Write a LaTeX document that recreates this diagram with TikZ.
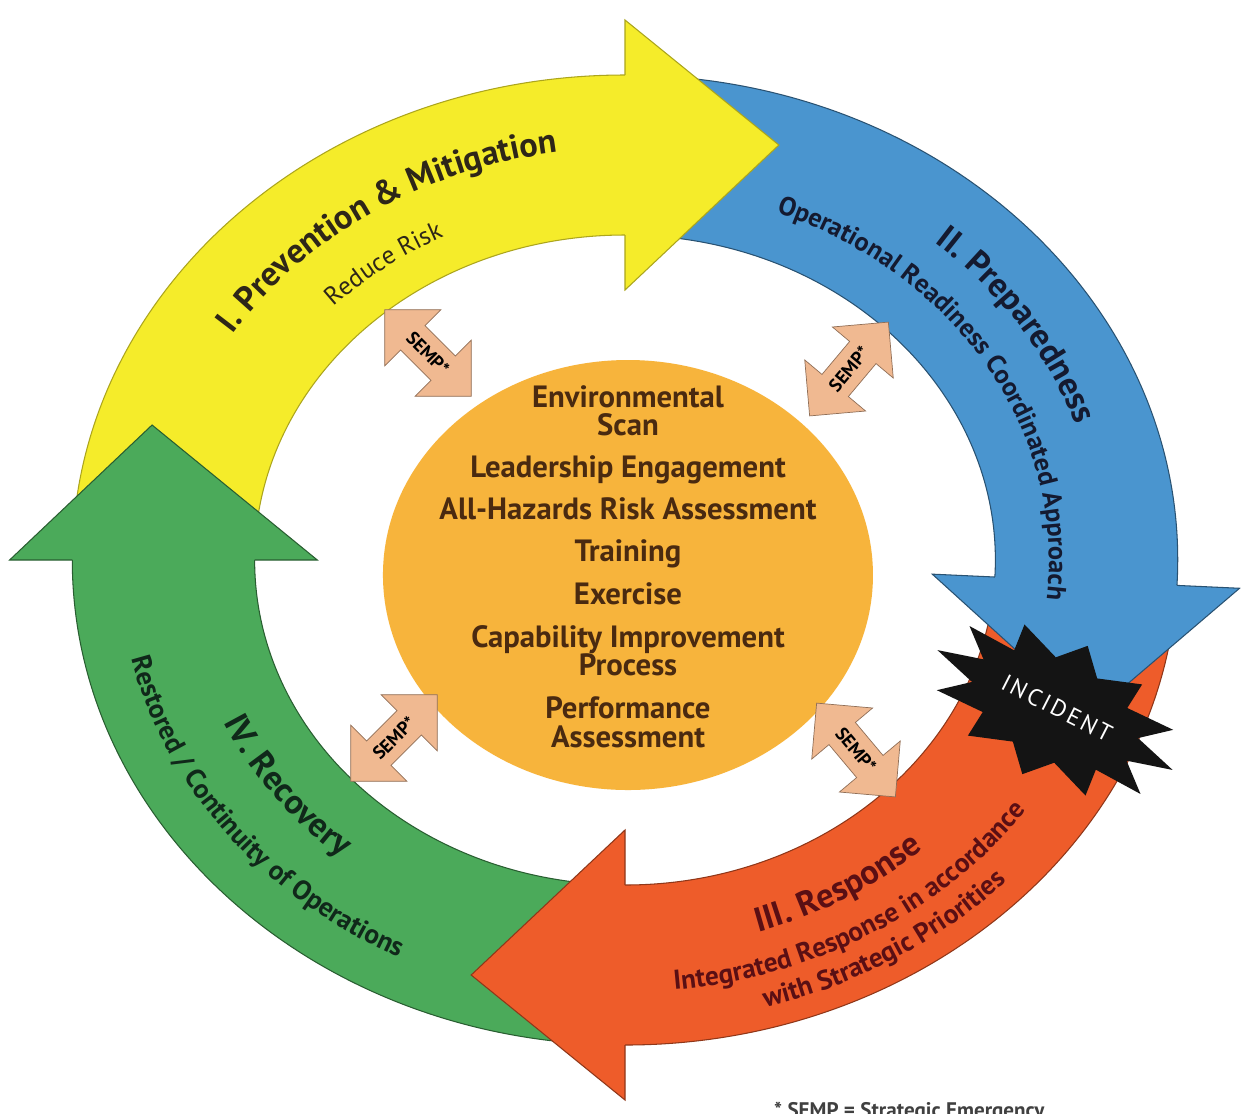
\documentclass[tikz,border=0pt]{standalone}
\usepackage{fontspec}
\setmainfont{PT Sans}
\usetikzlibrary{calc,decorations.text,shapes.arrows}

\definecolor{ringY}{HTML}{F5EC2A}
\definecolor{ringB}{HTML}{4A95CF}
\definecolor{ringR}{HTML}{EE5C2A}
\definecolor{ringG}{HTML}{4BAA5A}
\definecolor{core}{HTML}{F7B43C}
\definecolor{sempfill}{HTML}{F0B991}
\definecolor{txtY}{HTML}{2E2618}
\definecolor{txtB}{HTML}{141A30}
\definecolor{txtR}{HTML}{5A0F14}
\definecolor{txtG}{HTML}{10281A}
\definecolor{txtC}{HTML}{4A2A10}

% curved band of the cycle: fill colour, edge colour, start angle, end angle
% (the fill runs 2 degrees on under the head so that no seam shows)
\newcommand\ringbody[4]{%
  \fill[#1] (#3:485) arc[start angle=#3, end angle={#4-2}, radius=485]
     -- ({#4-2}:325) arc[start angle={#4-2}, end angle=#3, radius=325] -- cycle;
  \draw[#2, edgeline] (#3:485) arc[start angle=#3, end angle=#4, radius=485];
  \draw[#2, edgeline] (#3:325) arc[start angle=#3, end angle=#4, radius=325];
}
% arrow head at the end of a band: fill colour, edge colour, base angle
\newcommand\ringhead[3]{%
  \filldraw[fill=#1, draw=#2, edgeline] (#3:485) -- (#3:540)
     -- ($(#3:415)+({#3-90}:135)$) -- (#3:270) -- (#3:325);
}
% text set along an elliptical arc: radius, start, end, format, text
\newcommand\arctext[5]{%
  \path[decorate, decoration={text along path, text align=center,
     text={|#4|#5}}] (#2:#1) arc[start angle=#2, end angle=#3, radius=#1];
}

\begin{document}
\begin{tikzpicture}[x=0.02cm, y=-0.02cm,
  edgeline/.style={line width=0.6pt},
  coretext/.style={anchor=base, text=txtC, font=\bfseries\fontsize{17.5}{17.5}\selectfont},
  sempbox/.style={double arrow, double arrow head extend=0.45cm,
     minimum height=2.45cm, inner xsep=2pt, inner ysep=0.2cm,
     fill=sempfill, draw=sempfill!60!black, line width=0.4pt,
     font=\bfseries\fontsize{10.5}{11}\selectfont, text=black},
  burst/.style={fill=black!92}]
\useasboundingbox (0,0) rectangle (1260,1113);
\clip (0,0) rectangle (1260,1113);
\fill[white] (0,0) rectangle (1260,1113);

\begin{scope}[shift={(625,560)}, x=0.0228cm, y=0.02cm]
  % the four bands
  \ringbody{ringY}{ringY!70!black}{178}{90}
  \ringbody{ringB}{ringB!55!black}{86}{-3}
  \ringbody{ringR}{ringR!60!black}{-5}{-90}
  \ringbody{ringG}{ringG!55!black}{-92}{-180}
  % their heads
  \ringhead{ringY}{ringY!70!black}{90}
  \ringhead{ringB}{ringB!55!black}{-3}
  \ringhead{ringR}{ringR!60!black}{-90}
  \ringhead{ringG}{ringG!55!black}{-180}

  % central disc
  \fill[core] (2.6,-15) circle[radius=215];

  % phase titles and subtitles
  \arctext{412}{176}{72}{\color{txtY}\fontsize{19.5}{19.5}\selectfont\bfseries}{I. Prevention {\&} Mitigation}
  \arctext{360}{165}{89}{\color{txtY}\fontsize{14.5}{14.5}\selectfont}{Reduce Risk}
  \arctext{418}{80}{-15}{\color{txtB}\fontsize{19.5}{19.5}\selectfont\bfseries}{II. Preparedness}
  \arctext{372}{86}{-25}{\color{txtB}\fontsize{15}{15}\selectfont\bfseries}{Operational Readiness Coordinated Approach}
  \arctext{390}{-100}{-18}{\color{txtR}\fontsize{19.5}{19.5}\selectfont\bfseries}{III. Response}
  \arctext{432}{-100}{-18}{\color{txtR}\fontsize{15.5}{15.5}\selectfont\bfseries}{Integrated Response in accordance}
  \arctext{464}{-100}{-16}{\color{txtR}\fontsize{15.5}{15.5}\selectfont\bfseries}{with Strategic Priorities}
  \arctext{388}{-185}{-103}{\color{txtG}\fontsize{19.5}{19.5}\selectfont\bfseries}{IV. Recovery}
  \arctext{444}{-188}{-98}{\color{txtG}\fontsize{15.5}{15.5}\selectfont\bfseries}{Restored / Continuity of Operations}
\end{scope}

% contents of the central disc
\node[coretext] (env)  at (628,407) {Environmental};
\node[coretext] (scan) at (628,435) {Scan};
\node[coretext] (lead) at (628,477) {Leadership Engagement};
\node[coretext] (risk) at (628,519) {All-Hazards Risk Assessment};
\node[coretext] (train) at (628,561) {Training};
\node[coretext] (exer) at (628,604) {Exercise};
\node[coretext] (capa) at (628,647) {Capability Improvement};
\node[coretext] (proc) at (628,675) {Process};
\node[coretext] (perf) at (628,718) {Performance};
\node[coretext] (asse) at (628,747) {Assessment};

% SEMP links between the disc and the cycle
\node[sempbox, rotate=-45] (sempNW) at (428,353) {SEMP*};
\node[sempbox, rotate=50]  (sempNE) at (849,369) {SEMP*};
\node[sempbox, rotate=45]  (sempSW) at (394,738) {SEMP*};
\node[sempbox, rotate=-50] (sempSE) at (856,750) {SEMP*};

% incident burst
\begin{scope}[shift={(1055,710)}, rotate=-27]
  \fill[burst] (0:132 and 72)
    \foreach \i in {1,...,23}{ -- ({\i*15}:{132*(1-0.32*mod(\i,2))} and {72*(1-0.32*mod(\i,2))}) } -- cycle;
\end{scope}
\node[rotate=-27, text=white, font=\fontsize{13.5}{13.5}\selectfont\addfontfeature{LetterSpace=12}] (incident) at (1057,708) {INCIDENT};

% footnote
\node[anchor=base west, text=black!75, font=\bfseries\fontsize{12}{12}\selectfont] (note) at (768,1117) {* SEMP = Strategic Emergency};
\end{tikzpicture}
\end{document}
